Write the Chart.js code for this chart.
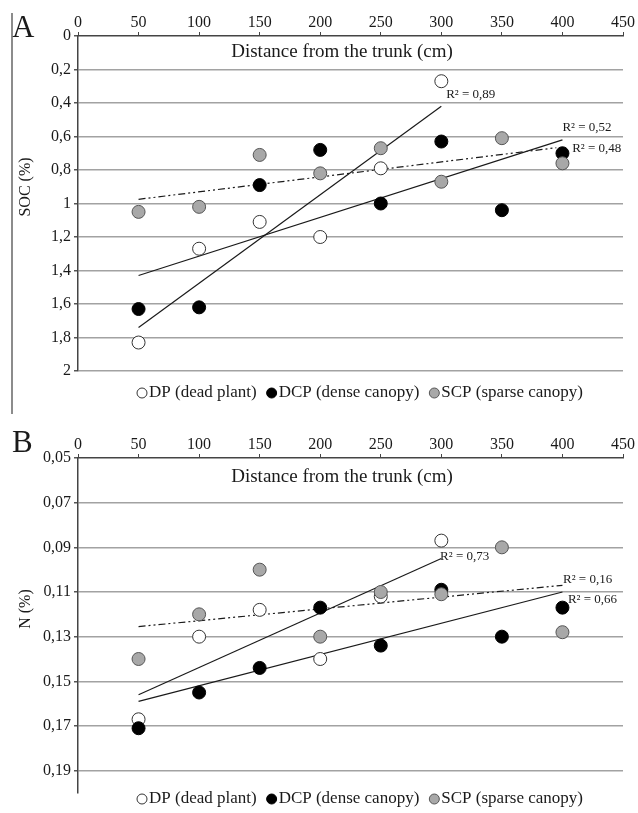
<!DOCTYPE html>
<html>
<head>
<meta charset="utf-8">
<script src="https://cdn.jsdelivr.net/npm/chart.js@4.4.0/dist/chart.umd.min.js"></script>
<style>
  html, body { margin: 0; padding: 0; background: #fff; }
  #wrap { position: relative; width: 638px; height: 813px; }
  #socChart { position: absolute; left: 0; top: 0; }
  #nChart { position: absolute; left: 0; top: 414px; }
</style>
</head>
<body>
<div id="wrap">
  <canvas id="socChart" width="638" height="414"></canvas>
  <canvas id="nChart" width="638" height="399"></canvas>
</div>
<script>
// distâncias do tronco (cm)
const distancias = [50, 100, 150, 200, 250, 300, 350, 400];
const xTicks = [0, 50, 100, 150, 200, 250, 300, 350, 400, 450];
const legendaNomes = ['DP (dead plant)', 'DCP (dense canopy)', 'SCP (sparse canopy)'];
const tituloX = 'Distance from the trunk (cm)';

// painel A - SOC (%)
const socDP  = [1.83, 1.27, 1.11, 1.20, 0.79, 0.27];
const socDCP = [1.63, 1.62, 0.89, 0.68, 1.00, 0.63, 1.04, 0.70];
const socSCP = [1.05, 1.02, 0.71, 0.82, 0.67, 0.87, 0.61, 0.76];
const socTicks = [0, 0.2, 0.4, 0.6, 0.8, 1, 1.2, 1.4, 1.6, 1.8, 2];
// linhas de tendência (pontas)
const socTrendDPx = [50, 300],  socTrendDPy = [1.74, 0.42];
const socTrendDCPx = [50, 400], socTrendDCPy = [1.43, 0.62];
const socTrendSCPx = [50, 395], socTrendSCPy = [0.975, 0.667];
const socR2 = ['R² = 0,89', 'R² = 0,52', 'R² = 0,48'];

// painel B - N (%)
const nDP  = [0.167, 0.130, 0.118, 0.140, 0.112, 0.087];
const nDCP = [0.171, 0.155, 0.144, 0.117, 0.134, 0.109, 0.130, 0.117];
const nSCP = [0.140, 0.120, 0.100, 0.130, 0.110, 0.111, 0.090, 0.128];
const nTicks = [0.05, 0.07, 0.09, 0.11, 0.13, 0.15, 0.17, 0.19];
const nTrendDPx = [50, 300],  nTrendDPy = [0.156, 0.095];
const nTrendDCPx = [50, 400], nTrendDCPy = [0.159, 0.110];
const nTrendSCPx = [50, 400], nTrendSCPy = [0.1255, 0.107];
const nR2 = ['R² = 0,73', 'R² = 0,16', 'R² = 0,66'];

const serif = "'Liberation Serif', 'DejaVu Serif', serif";
const cores = ['#ffffff', '#000000', '#a8a8a8'];
const bordas = ['#333333', '#000000', '#555555'];

const pontos = (xs, ys) => ys.map((y, i) => ({ x: xs[i], y: y }));

// plugin para o que o Chart.js não desenha sozinho (letra, títulos, R², legenda)
const decoracao = {
  id: 'decoracao',
  afterDraw(chart, args, o) {
    const { ctx, scales } = chart;
    ctx.save();
    ctx.fillStyle = '#1a1a1a';

    ctx.font = '31px ' + serif;
    ctx.textAlign = 'left';
    ctx.textBaseline = 'alphabetic';
    ctx.fillText(o.letra, 12, o.letraY);

    if (o.barraLateral) {
      ctx.strokeStyle = '#666';
      ctx.lineWidth = 1.5;
      ctx.beginPath();
      ctx.moveTo(12, 13);
      ctx.lineTo(12, chart.height);
      ctx.stroke();
    }

    // título do eixo y
    ctx.save();
    ctx.font = '16px ' + serif;
    ctx.textAlign = 'center';
    ctx.textBaseline = 'middle';
    ctx.translate(26, o.tituloYpos);
    ctx.rotate(-Math.PI / 2);
    ctx.fillText(o.tituloY, 0, 0);
    ctx.restore();

    // título do eixo x (fica dentro da área do gráfico)
    ctx.font = '19px ' + serif;
    ctx.textAlign = 'center';
    ctx.textBaseline = 'middle';
    ctx.fillText(tituloX, 342, o.tituloXpos);

    // R²
    ctx.font = '13px ' + serif;
    ctx.textAlign = 'left';
    o.r2.forEach(r => {
      ctx.fillText(r.texto, scales.x.getPixelForValue(r.x), scales.y.getPixelForValue(r.y));
    });

    // legenda
    ctx.font = '17px ' + serif;
    let px = 137;
    legendaNomes.forEach((nome, i) => {
      ctx.beginPath();
      ctx.arc(px + 5, o.legendaY, 5, 0, Math.PI * 2);
      ctx.fillStyle = cores[i];
      ctx.fill();
      ctx.strokeStyle = bordas[i];
      ctx.lineWidth = 1;
      ctx.stroke();
      ctx.fillStyle = '#1a1a1a';
      ctx.fillText(nome, px + 12, o.legendaY);
      px += 12 + ctx.measureText(nome).width + 10;
    });
    ctx.restore();
  }
};

function serie(dados, i, ordem) {
  return {
    data: pontos(distancias, dados),
    backgroundColor: cores[i],
    borderColor: bordas[i],
    borderWidth: 1,
    pointRadius: 6.5,
    pointHoverRadius: 6.5,
    order: ordem
  };
}

function tendencia(xs, ys, tracejado) {
  return {
    data: pontos(xs, ys),
    showLine: true,
    pointRadius: 0,
    borderColor: '#1a1a1a',
    borderWidth: 1.2,
    borderDash: tracejado ? [7, 3, 2, 3, 2, 3] : [],
    fill: false,
    order: 5
  };
}

function escalaX(altura) {
  return {
    type: 'linear',
    position: 'top',
    min: 0,
    max: 450,
    afterBuildTicks: s => { s.ticks = xTicks.map(v => ({ value: v })); },
    afterFit: s => { s.height = altura; },
    grid: { drawOnChartArea: false, drawTicks: true, tickLength: 4, tickColor: '#444', tickWidth: 1 },
    border: { color: '#444', width: 1.5 },
    ticks: { color: '#1a1a1a', font: { family: serif, size: 16 }, padding: 0, maxRotation: 0, autoSkip: false }
  };
}

function escalaY(min, max, valores, formato) {
  return {
    type: 'linear',
    reverse: true,
    min: min,
    max: max,
    afterBuildTicks: s => { s.ticks = valores.map(v => ({ value: v })); },
    afterFit: s => { s.width = 78; },
    grid: {
      color: c => (c.tick && c.tick.value === min) ? 'rgba(0,0,0,0)' : '#a2a2a2',
      lineWidth: 1.5,
      tickLength: 4,
      tickColor: '#555'
    },
    border: { color: '#444', width: 1.5 },
    ticks: { color: '#1a1a1a', font: { family: serif, size: 16 }, padding: 3, autoSkip: false, callback: formato }
  };
}

const opcoesBase = (pb) => ({
  responsive: false,
  animation: false,
  events: [],
  layout: { padding: { top: 0, left: 0, right: 15, bottom: pb } },
  plugins: { legend: { display: false }, tooltip: { enabled: false } }
});

// painel A
const optsA = opcoesBase(43);
optsA.scales = {
  x: escalaX(36),
  y: escalaY(0, 2, socTicks, v => String(Math.round(v * 10) / 10).replace('.', ','))
};
optsA.plugins.decoracao = {
  letra: 'A', letraY: 37, barraLateral: true,
  tituloY: 'SOC (%)', tituloYpos: 187, tituloXpos: 52, legendaY: 393,
  r2: [
    { texto: socR2[0], x: 304, y: 0.35 },
    { texto: socR2[1], x: 400, y: 0.547 },
    { texto: socR2[2], x: 408, y: 0.672 }
  ]
};

new Chart(document.getElementById('socChart'), {
  type: 'scatter',
  data: {
    datasets: [
      serie(socSCP, 2, 0),
      serie(socDCP, 1, 1),
      serie(socDP, 0, 2),
      tendencia(socTrendDPx, socTrendDPy, false),
      tendencia(socTrendDCPx, socTrendDCPy, false),
      tendencia(socTrendSCPx, socTrendSCPy, true)
    ]
  },
  options: optsA,
  plugins: [decoracao]
});

// painel B
const optsB = opcoesBase(20);
optsB.scales = {
  x: escalaX(44),
  y: escalaY(0.05, 0.2, nTicks, v => v.toFixed(2).replace('.', ','))
};
optsB.plugins.decoracao = {
  letra: 'B', letraY: 38, barraLateral: false,
  tituloY: 'N (%)', tituloYpos: 195, tituloXpos: 63, legendaY: 385,
  r2: [
    { texto: nR2[0], x: 299, y: 0.094 },
    { texto: nR2[1], x: 400.5, y: 0.1044 },
    { texto: nR2[2], x: 404.5, y: 0.1134 }
  ]
};

new Chart(document.getElementById('nChart'), {
  type: 'scatter',
  data: {
    datasets: [
      serie(nSCP, 2, 0),
      serie(nDCP, 1, 1),
      serie(nDP, 0, 2),
      tendencia(nTrendDPx, nTrendDPy, false),
      tendencia(nTrendDCPx, nTrendDCPy, false),
      tendencia(nTrendSCPx, nTrendSCPy, true)
    ]
  },
  options: optsB,
  plugins: [decoracao]
});
</script>
</body>
</html>
